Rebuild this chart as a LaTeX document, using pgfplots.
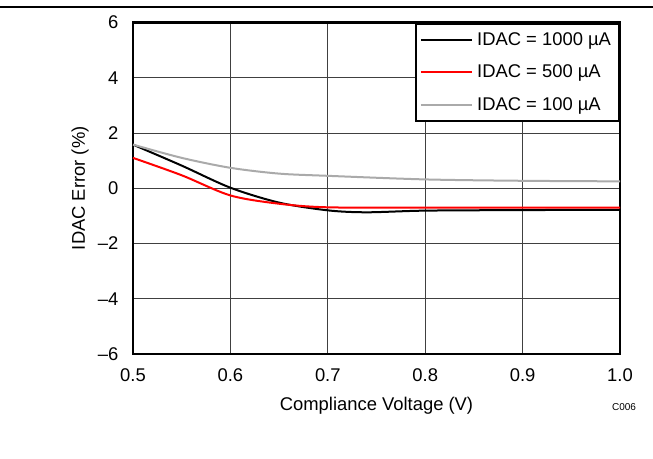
\documentclass[border=0pt]{standalone}
\usepackage{fontspec}
\setmainfont{Liberation Sans}
\usepackage{pgfplots}
\pgfplotsset{compat=1.18}
\begin{document}
\begin{tikzpicture}
\path[use as bounding box] (-99.75pt,-78pt) rectangle (390pt,265.5pt);
\draw[line width=1.5pt] (-99.75pt,260.25pt) -- (390pt,260.25pt);
\begin{axis}[
  at={(0,0)}, anchor=south west,
  scale only axis, width=365.25pt, height=248.625pt,
  xmin=0.5, xmax=1.0, ymin=-6, ymax=6,
  xtick={0.5,0.6,0.7,0.8,0.9,1.0},
  xticklabels={0.5,0.6,0.7,0.8,0.9,1.0},
  ytick={-6,-4,-2,0,2,4,6},
  yticklabels={\textendash6,\textendash4,\textendash2,0,2,4,6},
  major tick length=0pt,
  grid=major,
  major grid style={black!75, line width=0.6pt},
  axis line style={line width=1.6pt},
  tick label style={font=\fontsize{13.8}{16}\selectfont},
  /pgf/number format/assume math mode=true,
  xticklabel style={yshift=-7.3pt},
  yticklabel style={xshift=-7.5pt},
  xlabel={Compliance Voltage (V)},
  ylabel={IDAC Error (\%)},
  label style={font=\fontsize{13.8}{16}\selectfont},
  xlabel style={at={(axis description cs:0.5,0)}, anchor=center, yshift=-38.8pt},
  ylabel style={at={(axis description cs:-0.1088,0.5)}, anchor=center},
  legend style={at={(rel axis cs:1,1)}, anchor=north east, draw=black, line width=1.5pt,
    fill=white, font=\fontsize{13.8}{16}\selectfont, inner xsep=3pt, inner ysep=3.5pt,
    row sep=7pt,
    nodes={text height=9.8pt, text depth=1.5pt, inner sep=3pt}},
  legend cell align=left,
  legend image code/.code={\draw[#1] (0pt,0pt) -- (38.5pt,0pt);},
  clip=false,
]
\addplot[black, line width=1.5pt, smooth] coordinates {
(0.5,1.58) (0.55,0.82) (0.6,0.02) (0.65,-0.52) (0.7,-0.80) (0.74,-0.87) (0.8,-0.81) (0.9,-0.79) (1.0,-0.78)};
\addlegendentry{IDAC = 1000 µA}
\addplot[red, line width=1.5pt, smooth] coordinates {
(0.5,1.10) (0.55,0.47) (0.6,-0.26) (0.65,-0.56) (0.7,-0.69) (0.8,-0.70) (0.9,-0.70) (1.0,-0.70)};
\addlegendentry{IDAC = 500 µA}
\addplot[color={rgb,255:red,170;green,170;blue,170}, line width=1.5pt, smooth] coordinates {
(0.5,1.58) (0.55,1.10) (0.6,0.74) (0.65,0.53) (0.7,0.45) (0.8,0.32) (0.9,0.27) (1.0,0.25)};
\addlegendentry{IDAC = 100 µA}
\node[font=\fontsize{7.5}{9}\selectfont] at (rel axis cs:1,0) [xshift=3pt, yshift=-39.5pt] {C006};
\end{axis}
\end{tikzpicture}
\end{document}
